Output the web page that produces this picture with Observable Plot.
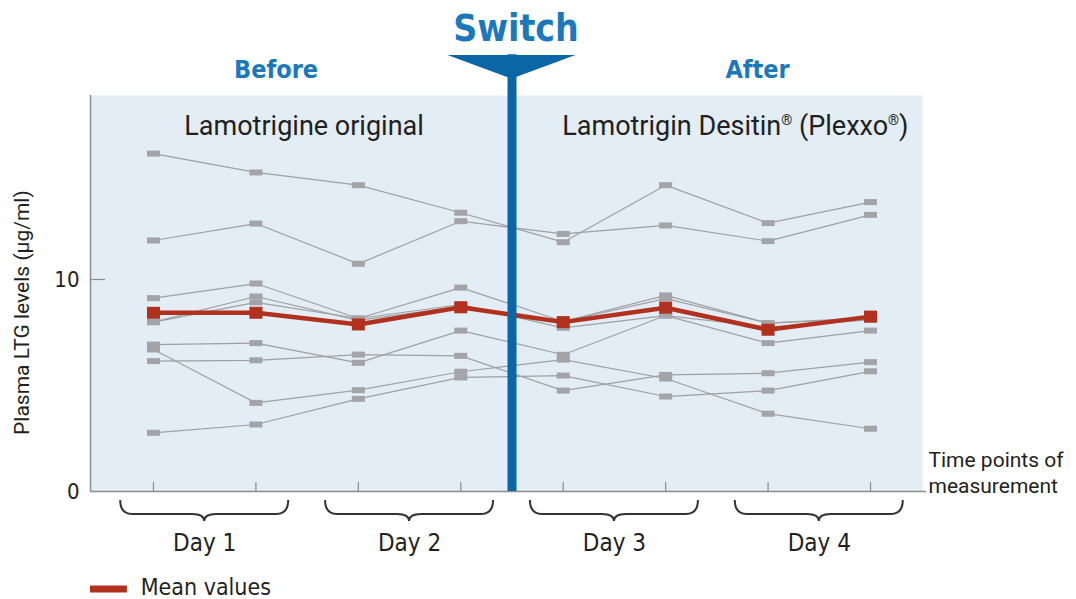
<!DOCTYPE html>
<html><head><meta charset="utf-8">
<script src="https://cdn.jsdelivr.net/npm/d3@7"></script>
<script src="https://cdn.jsdelivr.net/npm/@observablehq/plot@0.6"></script>
<style>body{margin:0;background:#fff;}</style>
</head><body><div id="chart"></div>
<script>
// ---- data ----
const timepoints = [1, 2, 3, 4, 5, 6, 7, 8];
const patient1 = [15.94, 15.05, 14.45, 13.15, 11.76, 14.45, 12.66, 13.65];
const patient2 = [11.84, 12.64, 10.74, 12.75, 12.15, 12.55, 11.81, 13.05];
const patient3 = [9.12, 9.81, 8.16, 9.62, 8.02, 9.25, 7.94, 8.16];
const patient4 = [7.99, 8.92, 8.16, 8.82, 7.72, 8.30, 7.75, 8.10];
const patient5 = [7.99, 9.20, 8.07, 8.73, 8.02, 9.10, 7.94, 8.20];
const patient6 = [6.93, 7.00, 6.07, 7.59, 6.45, 8.30, 7.00, 7.59];
const patient7 = [6.70, 4.18, 4.78, 5.65, 6.22, 5.33, 3.67, 2.96];
const patient8 = [6.15, 6.19, 6.46, 6.40, 4.76, 5.50, 5.58, 6.10];
const patient9 = [2.77, 3.16, 4.37, 5.38, 5.47, 4.48, 4.76, 5.67];
const meanValues = [8.43, 8.43, 7.88, 8.69, 7.99, 8.67, 7.63, 8.25];
const dayLabels = ["Day 1", "Day 2", "Day 3", "Day 4"];
const dayPoints = [[1, 2], [3, 4], [5, 6], [7, 8]];
const yTicks = [0, 10];
const switchAfter = 4.5;
const phaseLabels = ["Before", "After"];
const panelLabels = ["Lamotrigine original", "Lamotrigin Desitin® (Plexxo®)"];

// ---- tables ----
const patients = [patient1, patient2, patient3, patient4, patient5, patient6, patient7, patient8, patient9];
const rows = patients.flatMap((vals, i) => vals.map((v, j) => ({id: i, t: timepoints[j], v})));
const meanRows = meanValues.map((v, j) => ({t: timepoints[j], v}));

// ---- style ----
const bg = "#e2edf5", gray = "#a0a0a0", markGray = "#a4a3a7", red = "#b1301e",
      blue = "#0a66a6", blueText = "#1b78bd", dark = "#231f20", axisGray = "#8d8d8d";
const narrow = "'Liberation Sans Narrow', 'DejaVu Sans Condensed', Roboto, sans-serif";
const regular = "Roboto, 'Open Sans', sans-serif";
const xDomain = [0.385, 8.5077];
const yDomain = [0, 18.68];
const ns = "http://www.w3.org/2000/svg";
const rectSymbol = (w, h) => ({draw(ctx) { ctx.rect(-w / 2, -h / 2, w, h); }});

function braces(index, scales) {
  const g = document.createElementNS(ns, "g");
  for (const [a, b] of dayPoints) {
    const x1 = scales.x(a - 0.32), x2 = scales.x(b + 0.32), xc = (x1 + x2) / 2;
    const y0 = scales.y(0) + 9, ym = y0 + 14, yb = y0 + 21, r = 12;
    const p = document.createElementNS(ns, "path");
    p.setAttribute("d", `M${x1},${y0} Q${x1},${ym} ${x1 + r},${ym} L${xc - r},${ym} Q${xc},${ym} ${xc},${yb} Q${xc},${ym} ${xc + r},${ym} L${x2 - r},${ym} Q${x2},${ym} ${x2},${y0}`);
    p.setAttribute("fill", "none");
    p.setAttribute("stroke", "#333");
    p.setAttribute("stroke-width", "2");
    g.appendChild(p);
  }
  return g;
}

function switchArrow(index, scales) {
  const xc = scales.x(switchAfter), top = scales.y(yDomain[1]);
  const p = document.createElementNS(ns, "path");
  p.setAttribute("d", `M${xc - 64},${top - 40} L${xc + 64},${top - 40} L${xc + 4.5},${top - 18} L${xc - 4.5},${top - 18} Z`);
  p.setAttribute("fill", blue);
  return p;
}

const chart = Plot.plot({
  width: 1076, height: 599,
  marginLeft: 90, marginRight: 154, marginTop: 95, marginBottom: 108,
  x: {domain: xDomain, axis: null},
  y: {domain: yDomain, axis: null},
  style: {fontFamily: regular, background: "white", color: dark},
  marks: [
    Plot.frame({fill: bg, stroke: "none"}),
    Plot.ruleX([xDomain[0]], {stroke: axisGray, strokeWidth: 1.5}),
    Plot.ruleY([0], {stroke: axisGray, strokeWidth: 1.5, insetRight: -4}),
    Plot.tickX(timepoints, {x: d => d, stroke: axisGray, strokeWidth: 1.2, insetTop: 387}),
    Plot.tickY([10], {y: d => d, stroke: axisGray, strokeWidth: 1.2, insetRight: 817}),
    Plot.text(yTicks, {x: xDomain[0], y: d => d, text: d => String(d), dx: -11, textAnchor: "end", fontSize: 22, fontFamily: narrow, fill: dark}),
    Plot.line(rows, {x: "t", y: "v", z: "id", stroke: gray, strokeWidth: 1.2}),
    Plot.dot(rows, {x: "t", y: "v", symbol: rectSymbol(13, 6), fill: markGray, stroke: "none"}),
    Plot.line(meanRows, {x: "t", y: "v", stroke: red, strokeWidth: 4.5}),
    Plot.dot(meanRows, {x: "t", y: "v", symbol: rectSymbol(13, 12), fill: red, stroke: "none"}),
    Plot.ruleX([switchAfter], {y1: 0, y2: 20.6, stroke: blue, strokeWidth: 9}),
    switchArrow,
    braces,
    Plot.text(["Switch"], {x: switchAfter, y: 21.79, dx: 4, fontSize: 37, fontWeight: "bold", fontFamily: narrow, fill: blueText}),
    Plot.text([phaseLabels[0]], {x: 2.196, y: 19.86, fontSize: 25, fontWeight: "bold", fontFamily: narrow, fill: blueText}),
    Plot.text([phaseLabels[1]], {x: 6.897, y: 19.86, fontSize: 25, fontWeight: "bold", fontFamily: narrow, fill: blueText}),
    Plot.text([panelLabels[0]], {x: 2.47, y: 17.22, fontSize: 27, fill: dark}),
    Plot.text([panelLabels[1]], {x: 8.371, y: 17.22, textAnchor: "end", fontSize: 27, fill: dark}),
    Plot.text(dayLabels, {x: (d, i) => (dayPoints[i][0] + dayPoints[i][1]) / 2, y: -2.45, fontSize: 24, fontFamily: narrow, fill: dark}),
    Plot.text(["Plasma LTG levels (µg/ml)"], {x: -0.279, y: 8.44, rotate: -90, fontSize: 21, fill: dark}),
    Plot.text(["Time points of\nmeasurement"], {x: 8.566, y: 0.943, textAnchor: "start", lineHeight: 1.24, fontSize: 21, fill: dark}),
    Plot.ruleY([-4.6], {x1: xDomain[0], x2: xDomain[0] + 0.36, stroke: red, strokeWidth: 7}),
    Plot.text(["Mean values"], {x: xDomain[0] + 0.49, y: -4.55, textAnchor: "start", fontSize: 23, fontFamily: narrow, fill: dark})
  ]
});

// superscript registered marks
chart.querySelectorAll("text").forEach(t => {
  if (!t.textContent.includes("®") || t.children.length) return;
  const parts = t.textContent.split("®");
  t.textContent = "";
  parts.forEach((s, i) => {
    const a = document.createElementNS(ns, "tspan");
    a.textContent = s;
    if (i > 0) a.setAttribute("dy", "10");
    t.appendChild(a);
    if (i < parts.length - 1) {
      const r = document.createElementNS(ns, "tspan");
      r.textContent = "®";
      r.setAttribute("font-size", "14");
      r.setAttribute("dy", "-10");
      t.appendChild(r);
    }
  });
});
document.getElementById("chart").appendChild(chart);
</script>
</body></html>
